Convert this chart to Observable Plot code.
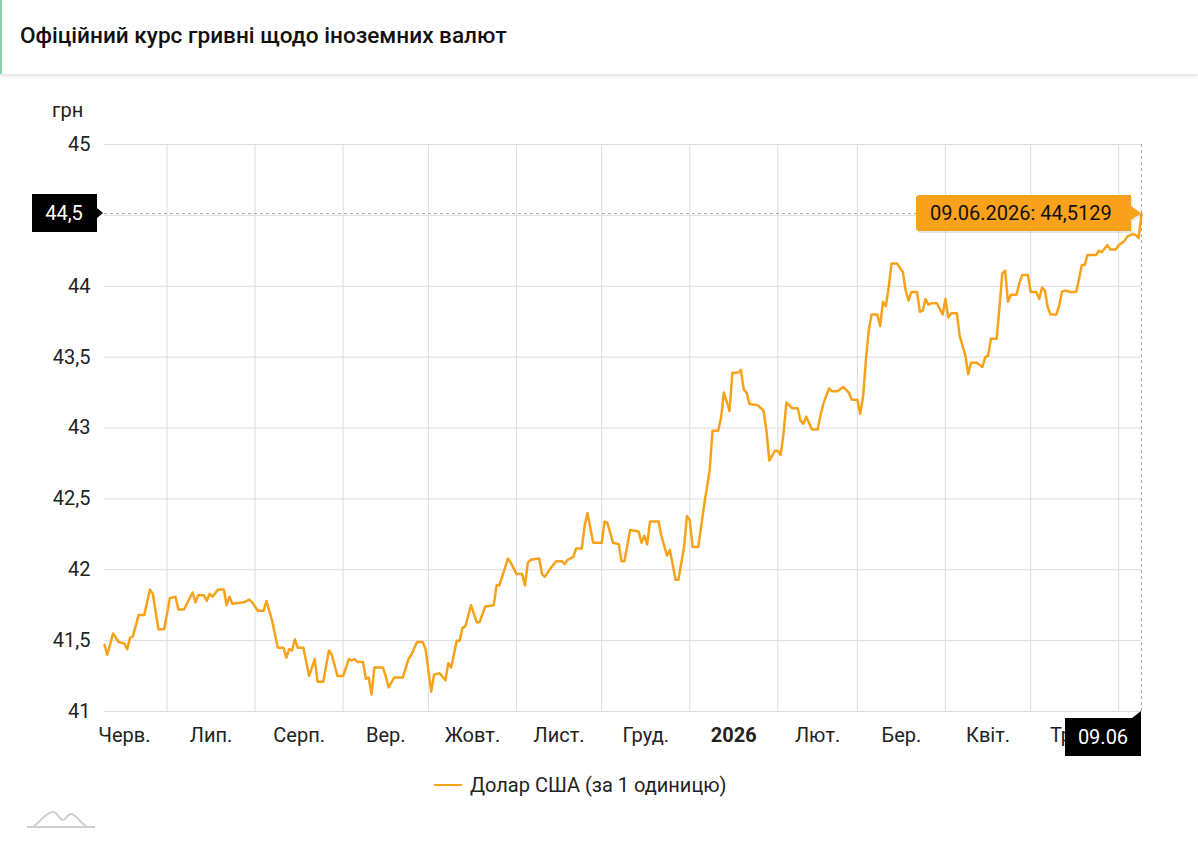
<!DOCTYPE html>
<html>
<head>
<meta charset="utf-8">
<script src="https://cdn.jsdelivr.net/npm/d3@7"></script>
<script src="https://cdn.jsdelivr.net/npm/@observablehq/plot@0.6"></script>
<style>
  html, body { margin: 0; padding: 0; background: #fff; }
  body { width: 1198px; height: 843px; overflow: hidden; position: relative; font-family: Roboto, "Noto Sans", sans-serif; }
  .header { position: absolute; left: 0; top: 0; width: 1198px; height: 74px; box-sizing: border-box;
            border-left: 2px solid #8fd0b0; box-shadow: 0 2px 4px rgba(0,0,0,0.13); background: #fff; }
  .header h1 { margin: 0; position: absolute; left: 18px; top: 22px; font-size: 22.6px; font-weight: 500; color: #111; letter-spacing: 0; }
  .unit { position: absolute; left: 52px; top: 98px; font-size: 20px; color: #222; }
  #chart { position: absolute; left: 0; top: 80px; }
  .legend { position: absolute; left: 434px; top: 773px; display: flex; align-items: center; font-size: 20px; color: #222; }
  .legend .sw { width: 28px; height: 2.5px; background: #f7a21b; margin-right: 8px; }
  .logo { position: absolute; left: 24px; top: 806px; }
</style>
</head>
<body>
<div class="header"><h1>Офіційний курс гривні щодо іноземних валют</h1></div>
<div class="unit">грн</div>
<div id="chart"></div>
<div class="legend"><div class="sw"></div><span>Долар США (за 1 одиницю)</span></div>
<svg class="logo" width="76" height="26" viewBox="0 0 76 26">
  <path d="M3,21 H71" stroke="#cfcfcf" stroke-width="2" fill="none"/>
  <path d="M9,21 C16,16 22,6 29,6 C34,6 35,14 39,14 C42,14 43,8 47,8 C52,8 55,16 63,21" stroke="#cfcfcf" stroke-width="2" fill="none"/>
</svg>
<script>
// ---- data ----
const dates = [
"2025-06-09","2025-06-10","2025-06-12","2025-06-14","2025-06-16","2025-06-17","2025-06-18","2025-06-19","2025-06-21","2025-06-23",
"2025-06-25","2025-06-26","2025-06-28","2025-06-30","2025-07-02","2025-07-04","2025-07-05","2025-07-07","2025-07-10","2025-07-11",
"2025-07-12","2025-07-14","2025-07-15","2025-07-16","2025-07-17","2025-07-19","2025-07-21","2025-07-22","2025-07-23","2025-07-24",
"2025-07-28","2025-07-30","2025-07-31","2025-08-02","2025-08-04","2025-08-05","2025-08-07","2025-08-09","2025-08-11","2025-08-12",
"2025-08-13","2025-08-14","2025-08-15","2025-08-16","2025-08-18","2025-08-20","2025-08-22","2025-08-23","2025-08-25","2025-08-27",
"2025-08-28","2025-08-30","2025-09-01","2025-09-03","2025-09-04","2025-09-05","2025-09-06","2025-09-08","2025-09-09","2025-09-10",
"2025-09-11","2025-09-12","2025-09-15","2025-09-16","2025-09-17","2025-09-19","2025-09-22","2025-09-24","2025-09-25","2025-09-27",
"2025-09-29","2025-09-30","2025-10-02","2025-10-03","2025-10-05","2025-10-07","2025-10-08","2025-10-09","2025-10-11","2025-10-12",
"2025-10-13","2025-10-14","2025-10-16","2025-10-18","2025-10-19","2025-10-21","2025-10-24","2025-10-25","2025-10-26","2025-10-29",
"2025-10-30","2025-11-01","2025-11-03","2025-11-04","2025-11-05","2025-11-06","2025-11-09","2025-11-10","2025-11-11","2025-11-13",
"2025-11-15","2025-11-17","2025-11-18","2025-11-19","2025-11-21","2025-11-22","2025-11-24","2025-11-25","2025-11-26","2025-11-28",
"2025-12-01","2025-12-02","2025-12-03","2025-12-05","2025-12-07","2025-12-08","2025-12-09","2025-12-11","2025-12-14","2025-12-15",
"2025-12-16","2025-12-17","2025-12-18","2025-12-21","2025-12-22","2025-12-24","2025-12-25","2025-12-27","2025-12-28","2025-12-30",
"2025-12-31","2026-01-01","2026-01-02","2026-01-04","2026-01-06","2026-01-08","2026-01-09","2026-01-11","2026-01-12","2026-01-13",
"2026-01-15","2026-01-16","2026-01-18","2026-01-19","2026-01-20","2026-01-21","2026-01-22","2026-01-25","2026-01-27","2026-01-28",
"2026-01-29","2026-01-31","2026-02-01","2026-02-02","2026-02-03","2026-02-04","2026-02-06","2026-02-08","2026-02-09","2026-02-10",
"2026-02-11","2026-02-13","2026-02-15","2026-02-16","2026-02-17","2026-02-19","2026-02-20","2026-02-22","2026-02-24","2026-02-26",
"2026-02-27","2026-03-01","2026-03-02","2026-03-03","2026-03-04","2026-03-05","2026-03-06","2026-03-08","2026-03-09","2026-03-10",
"2026-03-11","2026-03-12","2026-03-13","2026-03-15","2026-03-17","2026-03-18","2026-03-19","2026-03-20","2026-03-22","2026-03-23",
"2026-03-24","2026-03-25","2026-03-26","2026-03-27","2026-03-29","2026-03-31","2026-04-01","2026-04-02","2026-04-03","2026-04-05",
"2026-04-06","2026-04-08","2026-04-09","2026-04-10","2026-04-12","2026-04-14","2026-04-15","2026-04-16","2026-04-17","2026-04-19",
"2026-04-20","2026-04-21","2026-04-22","2026-04-23","2026-04-24","2026-04-26","2026-04-27","2026-04-28","2026-04-30","2026-05-01",
"2026-05-03","2026-05-04","2026-05-05","2026-05-06","2026-05-07","2026-05-08","2026-05-10","2026-05-11","2026-05-12","2026-05-13",
"2026-05-15","2026-05-17","2026-05-18","2026-05-19","2026-05-20","2026-05-21","2026-05-24","2026-05-25","2026-05-26","2026-05-28",
"2026-05-29","2026-05-31","2026-06-01","2026-06-03","2026-06-04","2026-06-06","2026-06-07","2026-06-08","2026-06-09"
];
const usd = [
41.47,41.40,41.55,41.49,41.48,41.44,41.52,41.53,41.68,41.68,
41.86,41.83,41.58,41.58,41.80,41.81,41.72,41.72,41.84,41.77,
41.82,41.82,41.78,41.83,41.81,41.86,41.86,41.75,41.81,41.76,
41.77,41.79,41.77,41.71,41.71,41.78,41.64,41.45,41.45,41.38,
41.44,41.43,41.51,41.45,41.45,41.25,41.37,41.21,41.21,41.43,
41.40,41.25,41.25,41.37,41.36,41.37,41.35,41.35,41.23,41.24,
41.12,41.31,41.31,41.25,41.17,41.24,41.24,41.37,41.40,41.49,
41.49,41.44,41.14,41.26,41.27,41.22,41.34,41.31,41.50,41.50,
41.59,41.60,41.75,41.63,41.63,41.74,41.75,41.89,41.89,42.08,
42.05,41.97,41.97,41.89,42.05,42.07,42.08,41.97,41.95,42.01,
42.06,42.06,42.04,42.07,42.09,42.15,42.15,42.31,42.40,42.19,
42.19,42.34,42.33,42.19,42.18,42.06,42.06,42.28,42.27,42.19,
42.24,42.18,42.34,42.34,42.24,42.10,42.14,41.93,41.93,42.16,
42.38,42.35,42.16,42.16,42.45,42.70,42.98,42.98,43.07,43.25,
43.12,43.39,43.39,43.41,43.27,43.25,43.17,43.16,43.12,42.98,
42.77,42.84,42.84,42.81,42.96,43.18,43.14,43.14,43.05,43.03,
43.08,42.99,42.99,43.09,43.17,43.28,43.26,43.26,43.29,43.25,
43.20,43.20,43.10,43.22,43.48,43.69,43.80,43.80,43.72,43.89,
43.86,43.99,44.16,44.16,44.10,43.97,43.90,43.96,43.96,43.82,
43.83,43.91,43.87,43.88,43.88,43.80,43.91,43.78,43.81,43.81,
43.65,43.51,43.38,43.46,43.46,43.43,43.50,43.51,43.63,43.63,
43.85,44.09,44.11,43.89,43.94,43.94,44.02,44.08,44.08,43.96,
43.96,43.91,43.99,43.97,43.85,43.80,43.80,43.86,43.96,43.97,
43.96,43.96,44.05,44.15,44.15,44.22,44.22,44.25,44.24,44.29,
44.26,44.26,44.29,44.32,44.35,44.37,44.36,44.34,44.5129
];
const monthStarts = ["2025-06-01","2025-07-01","2025-08-01","2025-09-01","2025-10-01","2025-11-01","2025-12-01",
                     "2026-01-01","2026-02-01","2026-03-01","2026-04-01","2026-05-01","2026-06-01","2026-07-01"];
const monthLabels = ["Черв.","Лип.","Серп.","Вер.","Жовт.","Лист.","Груд.","2026","Лют.","Бер.","Квіт.","Трав."];
const yTicks = [41, 41.5, 42, 42.5, 43, 43.5, 44, 44.5, 45];
const seriesName = "Долар США (за 1 одиницю)";
const lineColor = "#f7a21b";

// ---- build ----
const data = dates.map((d, i) => ({date: new Date(d), value: usd[i]}));
const last = data[data.length - 1];
const xDomain = [data[0].date, last.date];
const ms = monthStarts.map(d => new Date(d));
const mids = monthLabels.map((_, i) => new Date((+ms[i] + +ms[i + 1]) / 2));
const labelByTime = new Map(mids.map((d, i) => [+d, monthLabels[i]]));
const gridDates = ms.filter(d => d > xDomain[0] && d < xDomain[1]);
const fmtNum = v => String(v).replace(".", ",");
const crossY = Math.round(last.value * 10) / 10;
const axisTicks = yTicks.filter(t => t !== crossY);

const plot = Plot.plot({
  width: 1198, height: 690,
  marginLeft: 104, marginRight: 57, marginTop: 64, marginBottom: 59,
  style: {fontFamily: "Roboto, sans-serif", fontSize: "20px", background: "transparent", color: "#222", overflow: "visible"},
  x: {type: "utc", domain: xDomain},
  y: {domain: [41, 45]},
  marks: [
    Plot.gridY(yTicks, {stroke: "#dddddd", strokeOpacity: 1}),
    Plot.gridX(gridDates, {stroke: "#dddddd", strokeOpacity: 1}),
    Plot.axisY(axisTicks, {tickSize: 0, tickPadding: 14, tickFormat: fmtNum, fontSize: 20, fill: "#222", label: null}),
    Plot.axisX(mids, {tickSize: 0, tickPadding: 16, tickFormat: d => labelByTime.get(+d), fontSize: 20, fill: "#222", label: null}),
    Plot.ruleX([last], {x: "date", stroke: "#aaaaaa", strokeDasharray: "3,3"}),
    Plot.ruleY([last], {y: "value", stroke: "#aaaaaa", strokeDasharray: "3,3"}),
    Plot.line(data, {x: "date", y: "value", stroke: lineColor, strokeWidth: 2.5, curve: "linear"})
  ]
});
document.getElementById("chart").appendChild(plot);

const svg = d3.select(plot);
svg.selectAll("text").filter(function () { return this.textContent === "2026"; }).attr("font-weight", "bold");

const sx = plot.scale("x"), sy = plot.scale("y");
const px = sx.apply(last.date), py = sy.apply(last.value);
const [r0, r1] = sy.range;
const left = sx.range[0];

// y crosshair label
const gy = svg.append("g");
gy.append("path")
  .attr("d", `M${left - 72},${py - 19}H${left - 7}V${py - 5}L${left - 1},${py}L${left - 7},${py + 5}V${py + 19}H${left - 72}Z`)
  .attr("fill", "#000");
gy.append("text").attr("x", left - 40).attr("y", py).attr("dy", "0.36em")
  .attr("text-anchor", "middle").attr("fill", "#fff").attr("font-size", 20).text(fmtNum(crossY));

// x crosshair label
const gx = svg.append("g");
const by = Math.max(r0, r1) + 7;
gx.append("path")
  .attr("d", `M${px - 76},${by}H${px - 9}L${px},${by - 7}V${by + 38}H${px - 76}Z`)
  .attr("fill", "#000");
gx.append("text").attr("x", px - 38).attr("y", by + 19).attr("dy", "0.36em")
  .attr("text-anchor", "middle").attr("fill", "#fff").attr("font-size", 20).text(d3.utcFormat("%d.%m")(last.date));

// tooltip
const tip = svg.append("g");
const tw = 215, th = 36, tx = px - 10 - tw, ty = py - th / 2;
const tipPath = `M${tx + 3},${ty}H${tx + tw}V${py - 7}L${px},${py}L${tx + tw},${py + 7}V${ty + th}H${tx + 3}Q${tx},${ty + th} ${tx},${ty + th - 3}V${ty + 3}Q${tx},${ty} ${tx + 3},${ty}Z`;
tip.append("path").attr("d", tipPath).attr("fill", "rgba(0,0,0,0.10)").attr("transform", "translate(1.5,2)");
tip.append("path").attr("d", tipPath).attr("fill", "#f9a11b");
tip.append("text").attr("x", tx + 14).attr("y", py).attr("dy", "0.36em")
  .attr("text-anchor", "start").attr("fill", "#111").attr("font-size", 20)
  .text(`${d3.utcFormat("%d.%m.%Y")(last.date)}: ${String(last.value).replace(".", ",")}`);
</script>
</body>
</html>
